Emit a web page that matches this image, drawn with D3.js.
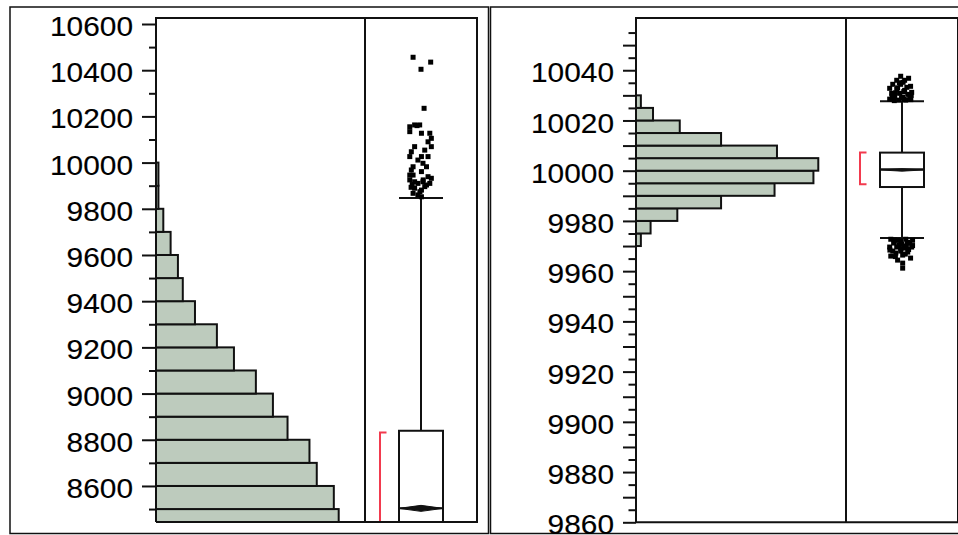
<!DOCTYPE html>
<html>
<head>
<meta charset="utf-8">
<script src="https://cdn.jsdelivr.net/npm/d3@7"></script>
<style>
  html, body { margin: 0; padding: 0; background: #fff; }
  svg { display: block; }
  .tick text { font-family: "Liberation Sans", Arial, sans-serif; fill: #000; stroke: #000; stroke-width: 0.15px; }
</style>
</head>
<body>
<svg id="chart" width="958" height="535"></svg>
<script>
// ---------------- DATA ----------------
// Left panel: histogram (bin starts, bin width 100) and counts
const leftBinStarts = [8400, 8500, 8600, 8700, 8800, 8900, 9000, 9100, 9200, 9300, 9400, 9500, 9600, 9700, 9800, 9900];
const leftBinWidth = 100;
const leftCounts = [75, 73, 66, 63, 54, 48, 41, 32, 25, 16, 11, 9, 6, 3, 1, 1];
const leftMajorTicks = [8600, 8800, 9000, 9200, 9400, 9600, 9800, 10000, 10200, 10400, 10600];
const leftMinorTicks = [8500, 8700, 8900, 9100, 9300, 9500, 9700, 9900, 10100, 10300, 10500];
// box plot summary
const leftQ1 = 8380, leftMedian = 8503, leftMean = 8503, leftQ3 = 8839;
const leftWhiskerLow = 8380, leftWhiskerHigh = 9847;
const leftShortestHalf = [8380, 8832];
// outliers: value and jitter (fraction of box half-width)
const leftOutlierValues = [10456, 10435, 10404, 10235, 10155, 10163, 10163, 10127, 10134, 10127, 10105, 10090, 10069, 10069,
  10047, 10026, 10011, 10026, 9997, 9982, 9961, 9968, 9946, 9925, 9917, 9910, 9917, 9939, 9932, 9903, 9910, 9889, 9881,
  9896, 9867, 9860, 9852, 10026, 10054, 9982, 9946, 10160, 9893, 9874, 9905, 9925];
const leftOutlierJitter = [-0.36, 0.44, 0.0, 0.14, -0.51, -0.29, -0.06, 0.02, -0.51, 0.40, 0.47, 0.32, 0.47, -0.29,
  -0.44, 0.02, -0.14, -0.51, 0.09, 0.25, 0.02, -0.44, -0.36, -0.51, -0.29, -0.14, 0.09, 0.32, 0.47, 0.25, 0.40, -0.29, 0.02,
  0.17, -0.36, -0.14, 0.02, 0.32, 0.17, -0.36, -0.51, -0.18, -0.45, -0.05, -0.40, 0.10];

// Right panel: histogram (bin starts, bin width 5) and counts
const rightBinStarts = [9970, 9975, 9980, 9985, 9990, 9995, 10000, 10005, 10010, 10015, 10020, 10025];
const rightBinWidth = 5;
const rightCounts = [2, 6, 17, 35, 57, 73, 75, 58, 35, 18, 7, 2];
const rightMajorTicks = [9860, 9880, 9900, 9920, 9940, 9960, 9980, 10000, 10020, 10040];
const rightMidTicks = [9870, 9890, 9910, 9930, 9950, 9970, 9990, 10010, 10030, 10050];
const rightMinorTicks = [9865, 9875, 9885, 9895, 9905, 9915, 9925, 9935, 9945, 9955, 9965, 9975, 9985, 9995,
  10005, 10015, 10025, 10035, 10045, 10055];
const rightQ1 = 9993.5, rightMedian = 10000.6, rightMean = 10000.3, rightQ3 = 10007.2;
const rightWhiskerLow = 9973.2, rightWhiskerHigh = 10027.7;
const rightShortestHalf = [9994.6, 10007.2];
const rightOutlierValues = [10037.6, 10036.0, 10036.0, 10036.8, 10034.4, 10034.4, 10033.6, 10032.8, 10032.4, 10032.0,
  10030.8, 10030.8, 10030.4, 10031.2, 10029.3, 10029.3, 10028.9, 10028.5, 10028.1, 10028.1,
  10035.2, 10033.0, 10031.5, 10030.0, 10029.0, 10028.3, 10027.9, 10033.2, 10031.0, 10029.6, 10028.4, 10035.0,
  9972.7, 9972.3, 9972.7, 9972.3, 9971.2, 9970.8, 9971.2, 9969.6, 9969.6, 9969.2, 9969.6, 9968.0, 9968.0, 9967.6,
  9966.0, 9966.4, 9965.2, 9964.4, 9963.2, 9961.2,
  9972.0, 9971.5, 9970.5, 9970.2, 9969.0, 9968.6, 9967.2, 9966.8, 9972.4, 9970.0, 9968.4, 9965.8];
const rightOutlierJitter = [-0.06, -0.24, 0.12, 0.30, -0.42, -0.06, 0.39, -0.56, -0.24, 0.12,
  -0.47, -0.10, 0.26, 0.44, -0.33, 0.03, 0.35, -0.56, -0.15, 0.17,
  0.05, -0.20, 0.08, 0.42, -0.02, 0.40, -0.35, 0.22, -0.30, -0.45, 0.10, -0.12,
  -0.51, -0.20, 0.17, 0.48, -0.38, 0.00, 0.35, -0.56, -0.24, 0.12, 0.44, -0.42, -0.06, 0.26,
  -0.51, 0.03, 0.39, -0.20, 0.03, 0.03,
  -0.05, 0.25, -0.15, 0.48, -0.05, 0.30, -0.28, 0.15, -0.35, 0.20, -0.55, -0.30];

// ---------------- STYLE / LAYOUT ----------------
const barFill = "#bdcbbd";
const ink = "#111";
const red = "#f23a4e";

const svg = d3.select("#chart");

function drawPanel(cfg) {
  const g = svg.append("g");
  const y = d3.scaleLinear().domain(cfg.yDomain).range([cfg.bottom, cfg.top]);
  const x = d3.scaleLinear().domain([0, cfg.countMax]).range([cfg.axisX, cfg.divider]);

  g.append("rect").attr("x", cfg.outer[0]).attr("y", cfg.outer[1])
    .attr("width", cfg.outer[2] - cfg.outer[0]).attr("height", cfg.outer[3] - cfg.outer[1])
    .attr("fill", "none").attr("stroke", ink).attr("stroke-width", 1.5);

  const clipId = "clip" + cfg.id;
  svg.append("clipPath").attr("id", clipId).append("rect")
    .attr("x", cfg.axisX).attr("y", cfg.top).attr("width", cfg.right - cfg.axisX).attr("height", cfg.bottom - cfg.top);

  const plot = g.append("g").attr("clip-path", `url(#${clipId})`);

  plot.selectAll("rect.bar").data(cfg.binStarts).join("rect").attr("class", "bar")
    .attr("x", x(0))
    .attr("y", (d) => y(d + cfg.binWidth))
    .attr("width", (d, i) => x(cfg.counts[i]) - x(0))
    .attr("height", (d) => y(d) - y(d + cfg.binWidth))
    .attr("fill", barFill).attr("stroke", ink).attr("stroke-width", 2);

  const cx = (cfg.divider + cfg.right) / 2;
  const hw = cfg.boxHalf;
  plot.append("line").attr("x1", cx).attr("x2", cx).attr("y1", y(cfg.whiskerHigh)).attr("y2", y(cfg.q3))
    .attr("stroke", ink).attr("stroke-width", 2);
  plot.append("line").attr("x1", cx).attr("x2", cx).attr("y1", y(cfg.q1)).attr("y2", y(cfg.whiskerLow))
    .attr("stroke", ink).attr("stroke-width", 2);
  [cfg.whiskerHigh, cfg.whiskerLow].forEach((w) => {
    plot.append("line").attr("x1", cx - hw).attr("x2", cx + hw).attr("y1", y(w)).attr("y2", y(w))
      .attr("stroke", ink).attr("stroke-width", 2);
  });
  plot.append("rect").attr("x", cx - hw).attr("y", y(cfg.q3)).attr("width", 2 * hw)
    .attr("height", y(cfg.q1) - y(cfg.q3)).attr("fill", "#fff").attr("stroke", ink).attr("stroke-width", 2);
  plot.append("line").attr("x1", cx - hw).attr("x2", cx + hw).attr("y1", y(cfg.median)).attr("y2", y(cfg.median))
    .attr("stroke", ink).attr("stroke-width", 2);
  const my = y(cfg.mean);
  plot.append("path")
    .attr("d", `M${cx - hw},${my} L${cx},${my - cfg.diamond} L${cx + hw},${my} L${cx},${my + cfg.diamond} Z`)
    .attr("fill", ink).attr("stroke", ink).attr("stroke-width", 1);
  const bx = cfg.divider + cfg.bracketOffset;
  plot.append("path")
    .attr("d", `M${bx + 6.5},${y(cfg.shortest[1])} H${bx} V${y(cfg.shortest[0])} H${bx + 6.5}`)
    .attr("fill", "none").attr("stroke", red).attr("stroke-width", 2);
  plot.selectAll("rect.pt").data(cfg.outVals).join("rect").attr("class", "pt")
    .attr("x", (d, i) => cx + cfg.outJit[i] * hw - 2.5)
    .attr("y", (d) => y(d) - 2.5)
    .attr("width", 5).attr("height", 5).attr("fill", "#000");

  g.append("path")
    .attr("d", `M${cfg.axisX},${cfg.bottom} V${cfg.top} H${cfg.right} V${cfg.bottom} H${cfg.axisX}`)
    .attr("fill", "none").attr("stroke", ink).attr("stroke-width", 2);
  g.append("line").attr("x1", cfg.divider).attr("x2", cfg.divider).attr("y1", cfg.top).attr("y2", cfg.bottom)
    .attr("stroke", ink).attr("stroke-width", 2);

  const addAxis = (vals, size, labels) => {
    const ax = g.append("g").attr("transform", `translate(${cfg.axisX},0)`)
      .call(d3.axisLeft(y).tickValues(vals).tickSize(size).tickPadding(9)
        .tickFormat(labels ? d3.format("d") : () => ""));
    ax.select(".domain").remove();
    ax.selectAll(".tick line").attr("stroke", ink).attr("stroke-width", 2);
    ax.selectAll(".tick text").attr("font-size", 27.5).attr("dy", "0.42em")
      .attr("textLength", (d) => String(d).length * 16.6).attr("lengthAdjust", "spacingAndGlyphs");
    return ax;
  };
  cfg.tickSets.forEach((t) => addAxis(t.vals, t.size, t.labels));
}

drawPanel({
  id: "L",
  outer: [10, 7, 488.5, 533.5],
  top: 18, bottom: 522, axisX: 156, divider: 365, right: 477,
  yDomain: [8444, 10626],
  countMax: 85.8,
  binStarts: leftBinStarts, binWidth: leftBinWidth, counts: leftCounts,
  q1: leftQ1, q3: leftQ3, median: leftMedian, mean: leftMean,
  whiskerLow: leftWhiskerLow, whiskerHigh: leftWhiskerHigh,
  shortest: leftShortestHalf, outVals: leftOutlierValues, outJit: leftOutlierJitter,
  boxHalf: 22, diamond: 3, bracketOffset: 15,
  tickSets: [
    { vals: leftMinorTicks, size: 7, labels: false },
    { vals: leftMajorTicks, size: 14, labels: true }
  ]
});

drawPanel({
  id: "R",
  outer: [490.5, 7, 970, 533.5],
  top: 18, bottom: 522.3, axisX: 636, divider: 846, right: 958,
  yDomain: [9860, 10060.8],
  countMax: 86.4,
  binStarts: rightBinStarts, binWidth: rightBinWidth, counts: rightCounts,
  q1: rightQ1, q3: rightQ3, median: rightMedian, mean: rightMean,
  whiskerLow: rightWhiskerLow, whiskerHigh: rightWhiskerHigh,
  shortest: rightShortestHalf, outVals: rightOutlierValues, outJit: rightOutlierJitter,
  boxHalf: 22, diamond: 1.2, bracketOffset: 14,
  tickSets: [
    { vals: rightMinorTicks, size: 7.5, labels: false },
    { vals: rightMidTicks, size: 13, labels: false },
    { vals: rightMajorTicks, size: 13, labels: true }
  ]
});
</script>
</body>
</html>
